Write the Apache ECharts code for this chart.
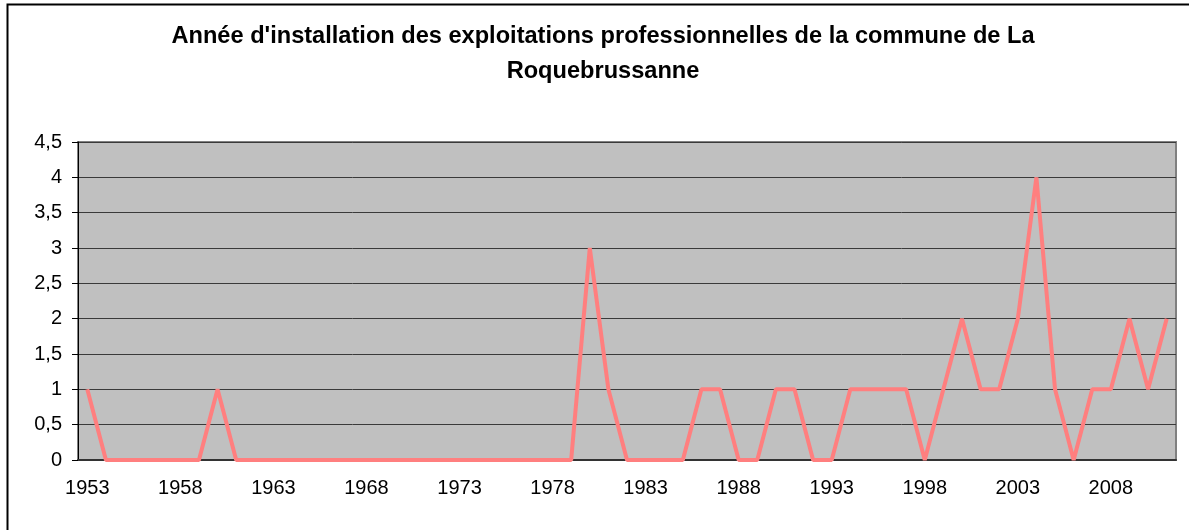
<!DOCTYPE html>
<html>
<head>
<meta charset="utf-8">
<script src="https://cdn.jsdelivr.net/npm/echarts@6/dist/echarts.min.js"></script>
<style>
  html, body { margin: 0; padding: 0; background: #fff; }
  #main { width: 1189px; height: 530px; }
</style>
</head>
<body>
<div id="main"></div>
<script>
// années 1953 -> 2011
var annees = [];
for (var a = 1953; a <= 2011; a++) annees.push(String(a));

// nombre d'installations par année
var installations = [
    1, 0, 0, 0, 0, 0, 0, 1, 0, 0,      // 1953-1962
    0, 0, 0, 0, 0, 0, 0, 0, 0, 0,      // 1963-1972
    0, 0, 0, 0, 0, 0, 0, 3, 1, 0,      // 1973-1982
    0, 0, 0, 1, 1, 0, 0, 1, 1, 0,      // 1983-1992
    0, 1, 1, 1, 1, 0, 1, 2, 1, 1,      // 1993-2002
    2, 4, 1, 0, 1, 1, 2, 1, 2          // 2003-2011
];

var titre = "Année d'installation des exploitations professionnelles de la commune de La\nRoquebrussanne";

var chart = echarts.init(document.getElementById('main'));

var option = {
    animation: false,
    backgroundColor: '#ffffff',
    title: {
        text: titre,
        left: 598,
        top: 14,
        textAlign: 'center',
        textStyle: {
            fontFamily: 'Liberation Sans, Arial, sans-serif',
            fontSize: 23.6,
            fontWeight: 'bold',
            color: '#000',
            lineHeight: 35
        }
    },
    graphic: [{
        type: 'rect',
        shape: { x: 7.5, y: 4.5, width: 1200, height: 540 },
        style: { fill: 'none', stroke: '#000', lineWidth: 2 },
        silent: true,
        z: 100
    }],
    grid: {
        left: 78,
        right: 13,
        top: 142,
        bottom: 70,
        show: true,
        backgroundColor: '#C0C0C0',
        borderColor: '#808080',
        borderWidth: 2
    },
    xAxis: {
        type: 'category',
        data: annees,
        boundaryGap: true,
        axisLine: { lineStyle: { color: '#333', width: 2 } },
        axisTick: { interval: 4, length: 6, lineStyle: { color: '#000' } },
        axisLabel: {
            interval: 4,
            margin: 18,
            fontFamily: 'Liberation Sans, Arial, sans-serif',
            fontSize: 20,
            color: '#000'
        },
        splitLine: { show: false }
    },
    yAxis: {
        type: 'value',
        min: 0,
        max: 4.5,
        interval: 0.5,
        axisLine: { show: true, lineStyle: { color: '#000', width: 1 } },
        axisTick: { show: true, length: 6, lineStyle: { color: '#000' } },
        axisLabel: {
            margin: 16,
            fontFamily: 'Liberation Sans, Arial, sans-serif',
            fontSize: 20,
            color: '#000',
            formatter: function (v) { return String(v).replace('.', ','); }
        },
        splitLine: { show: true, lineStyle: { color: '#3a3a3a', width: 1 } }
    },
    series: [{
        type: 'line',
        data: installations,
        symbol: 'none',
        lineStyle: { color: '#FF7F7F', width: 4 },
        z: 3
    }]
};

chart.setOption(option);
</script>
</body>
</html>
